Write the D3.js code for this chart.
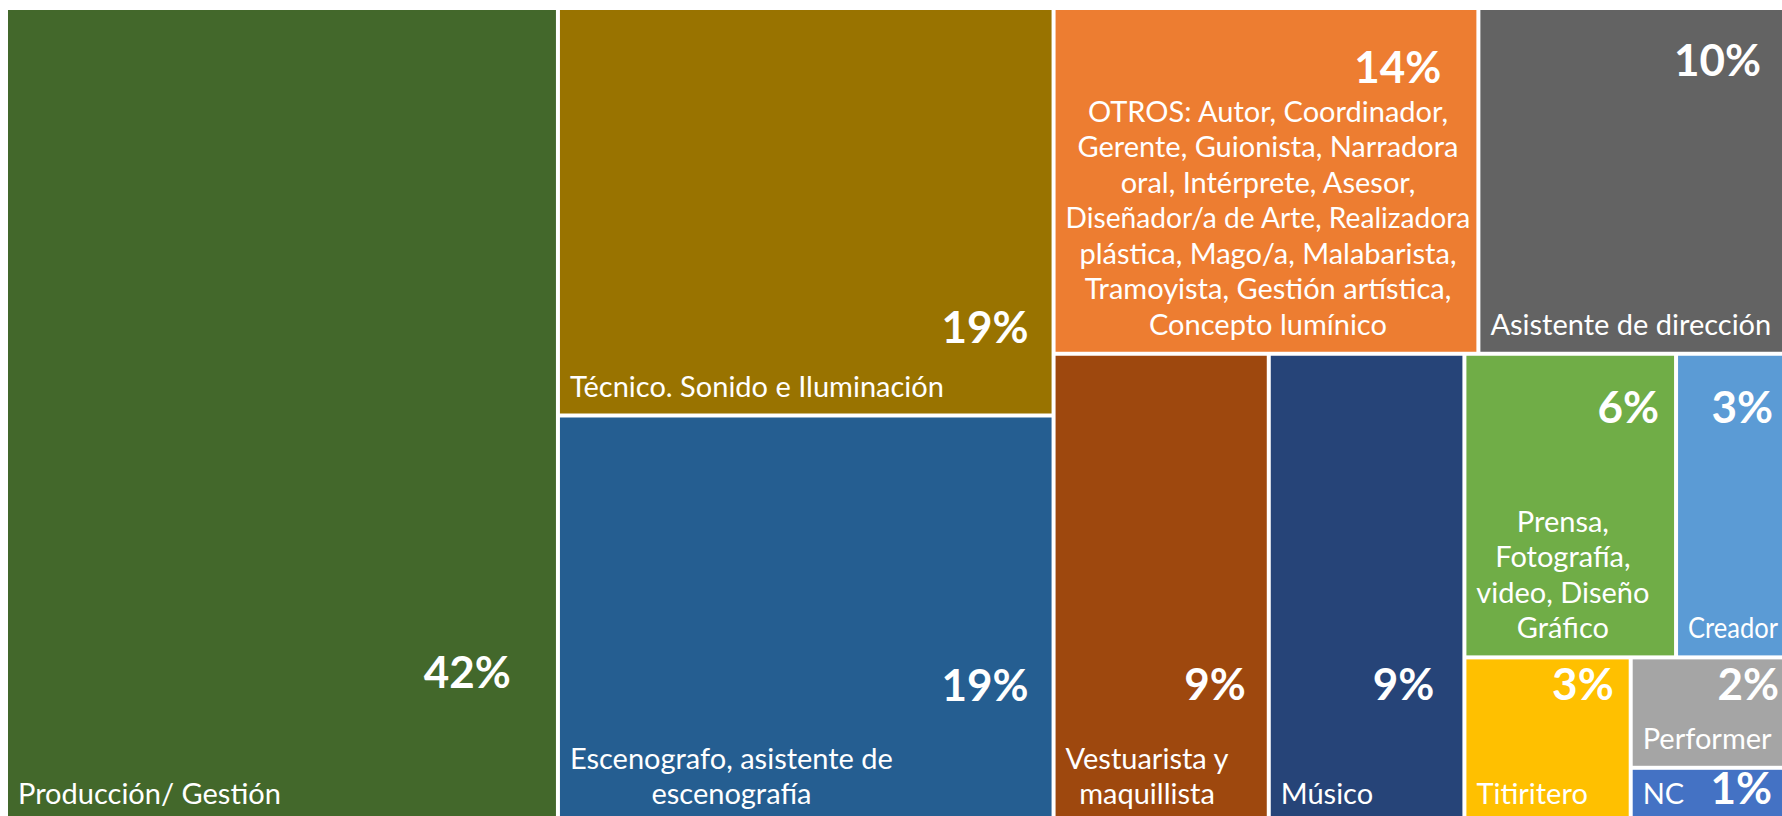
<!DOCTYPE html>
<html>
<head>
<meta charset="utf-8">
<script src="https://cdn.jsdelivr.net/npm/d3@7"></script>
<style>
  body { margin: 0; background: #fff; }
  svg { display: block; overflow: hidden; }
  text { font-family: Lato, "Open Sans", sans-serif; fill: #fff; }
</style>
</head>
<body>
<script>
// roles of the respondents (multiple answers allowed), counts out of 117 people
var categories = [
  "Producción/ Gestión",
  "Técnico. Sonido e Iluminación",
  "Escenografo, asistente de\nescenografía",
  "OTROS: Autor, Coordinador,\nGerente, Guionista, Narradora\noral, Intérprete, Asesor,\nDiseñador/a de Arte, Realizadora\nplástica, Mago/a, Malabarista,\nTramoyista, Gestión artística,\nConcepto lumínico",
  "Asistente de dirección",
  "Vestuarista y\nmaquillista",
  "Músico",
  "Prensa,\nFotografía,\nvideo, Diseño\nGráfico",
  "Creador",
  "Titiritero",
  "Performer",
  "NC"
];
var counts = [49, 22, 22, 16, 12, 11, 10, 7, 4, 3, 2, 1];
var respondents = 117;

var colors = ["#43682B", "#997300", "#255E91", "#ED7D31", "#636363", "#9E480E",
              "#264478", "#70AD47", "#5B9BD5", "#FFC000", "#A5A5A5", "#4472C4"];

// how excel grouped the rectangles (indices into categories), tiled slice/dice by depth
var layoutGroups = [0, [1, 2], [[3, 4], [5, 6, [[7, 8], [9, [10, 11]]]]]];

// where each percentage sits: [distance from right edge, baseline below top edge]
var pctOffset = [[45, 678], [23, 333], [23, 283], [35, 73], [34, 66], [21, 344],
                 [28, 344], [15, 67], [22, 67], [15, 41], [16, 41], [23, 34]];

var w = 1782, h = 816;
var marginLeft = 8, marginTop = 10;
var tmW = 1787, tmH = 811;   // the treemap runs past the picture edges, as in the original

var svg = d3.select("body").append("svg")
    .attr("width", w)
    .attr("height", h);

function build(grp) {
  if (Array.isArray(grp)) return { children: grp.map(build) };
  return { index: grp, value: counts[grp] };
}

var root = d3.hierarchy(build(layoutGroups))
    .sum(function(d) { return d.value || 0; });

d3.treemap()
    .tile(d3.treemapSliceDice)
    .size([tmW, tmH])
    .paddingInner(4)(root);

var g = svg.append("g")
    .attr("transform", "translate(" + marginLeft + "," + marginTop + ")");

var cell = g.selectAll("g.cell")
  .data(root.leaves())
  .enter().append("g")
    .attr("class", "cell");

cell.append("rect")
    .attr("x", function(d) { return d.x0; })
    .attr("y", function(d) { return d.y0; })
    .attr("width", function(d) { return d.x1 - d.x0; })
    .attr("height", function(d) { return d.y1 - d.y0; })
    .attr("fill", function(d) { return colors[d.data.index]; });

// percentage labels
cell.append("text")
    .attr("x", function(d) { return d.x1 - pctOffset[d.data.index][0]; })
    .attr("y", function(d) { return d.y0 + pctOffset[d.data.index][1]; })
    .attr("text-anchor", "end")
    .attr("font-size", 44)
    .attr("font-weight", "bold")
    .text(function(d) { return Math.round(d.data.value / respondents * 100) + "%"; });

// category names, bottom left block with centred lines
var lineH = 35.5, pad = 10;
var visibleRight = w - marginLeft - 4;
cell.each(function(d) {
  var lines = categories[d.data.index].split("\n");
  var avail = Math.min(d.x1 - 6, visibleRight) - (d.x0 + pad);
  var t = d3.select(this).append("text")
      .attr("font-size", 29)
      .attr("text-anchor", "middle");
  var spans = t.selectAll("tspan").data(lines).enter().append("tspan")
      .text(function(s) { return s; });
  var maxW = 0;
  spans.each(function() {
    var len = this.getComputedTextLength();
    if (len > avail) {
      // squeeze lines a little where this font runs wider than the original one
      d3.select(this).attr("textLength", avail).attr("lengthAdjust", "spacingAndGlyphs");
      len = avail;
    }
    maxW = Math.max(maxW, len);
  });
  spans
      .attr("x", d.x0 + pad + maxW / 2)
      .attr("y", function(s, i) { return d.y1 - 17 - (lines.length - 1 - i) * lineH; });
});
</script>
</body>
</html>
